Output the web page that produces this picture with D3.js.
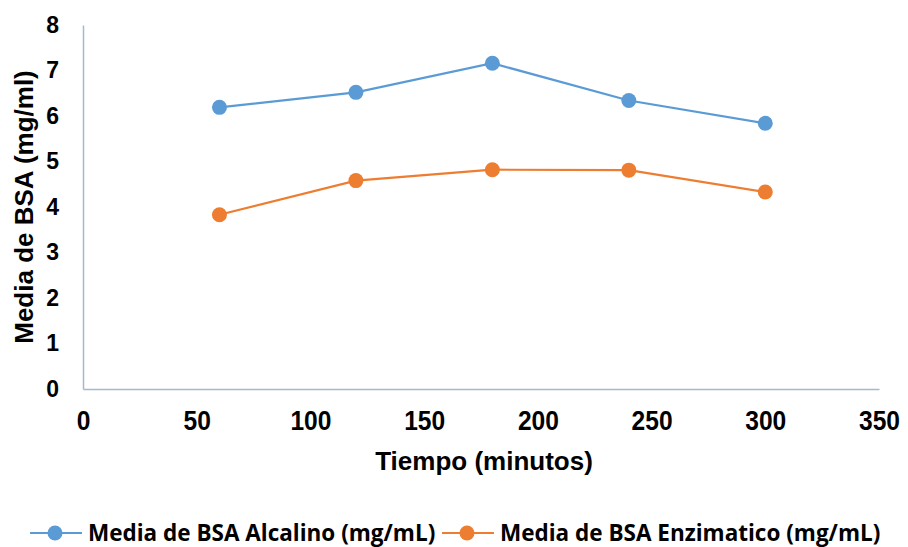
<!DOCTYPE html>
<html>
<head>
<meta charset="utf-8">
<script src="https://cdn.jsdelivr.net/npm/d3@7"></script>
<style>
    body { margin: 0; background: #fff; }
    svg { display: block; }
</style>
</head>
<body>
<svg id="chart" width="908" height="547"></svg>
<script>
/* global d3 : false */

const tiempos = [60, 120, 180, 240, 300];
const alcalino = [6.19, 6.52, 7.16, 6.34, 5.84];
const enzimatico = [3.83, 4.58, 4.82, 4.81, 4.33];
const xTicks = [0, 50, 100, 150, 200, 250, 300, 350];
const yTicks = [0, 1, 2, 3, 4, 5, 6, 7, 8];
const seriesNames = ["Media de BSA Alcalino (mg/mL)", "Media de BSA Enzimatico (mg/mL)"];
const seriesColors = ["#5B9BD5", "#ED7D31"];

const svg = d3.select("#chart");
const margin = { left: 83, right: 29, top: 25, bottom: 158 };
const width = 908 - margin.left - margin.right;
const height = 547 - margin.top - margin.bottom;

const x = d3.scaleLinear().domain([0, 350]).range([margin.left, margin.left + width]);
const y = d3.scaleLinear().domain([0, 8]).range([margin.top + height, margin.top]);

const axisFont = "'Liberation Sans', Arial, sans-serif";
const legendFont = "'Open Sans', Lato, sans-serif";

// axes
const yAxis = svg.append("g")
    .attr("transform", `translate(${margin.left},0)`)
    .call(d3.axisLeft(y).tickValues(yTicks).tickSize(0).tickPadding(24));
const xAxis = svg.append("g")
    .attr("transform", `translate(0,${margin.top + height})`)
    .call(d3.axisBottom(x).tickValues(xTicks).tickSize(0).tickPadding(22));

[yAxis, xAxis].forEach(g => {
    g.select(".domain").attr("stroke", "#A9B6D2").attr("stroke-width", 1.5);
});
yAxis.selectAll("text")
    .attr("font-family", axisFont)
    .attr("font-weight", "bold")
    .attr("font-size", 23)
    .attr("fill", "#000");
xAxis.selectAll("text")
    .attr("font-family", axisFont)
    .attr("font-weight", "bold")
    .attr("font-size", 27)
    .attr("transform", "scale(0.91,1)")
    .attr("fill", "#000");

// axis titles
svg.append("text")
    .attr("transform", `translate(33,207) rotate(-90)`)
    .attr("text-anchor", "middle")
    .attr("font-family", axisFont)
    .attr("font-weight", "bold")
    .attr("font-size", 26)
    .text("Media de BSA (mg/ml)");

svg.append("text")
    .attr("x", 484)
    .attr("y", 470)
    .attr("text-anchor", "middle")
    .attr("font-family", axisFont)
    .attr("font-weight", "bold")
    .attr("font-size", 26)
    .text("Tiempo (minutos)");

// series
const line = d3.line()
    .x(d => x(d[0]))
    .y(d => y(d[1]));

[alcalino, enzimatico].forEach((values, i) => {
    const pts = tiempos.map((t, j) => [t, values[j]]);
    svg.append("path")
        .datum(pts)
        .attr("fill", "none")
        .attr("stroke", seriesColors[i])
        .attr("stroke-width", 2.2)
        .attr("d", line);
    svg.append("g")
        .selectAll("circle")
        .data(pts)
        .join("circle")
        .attr("cx", d => x(d[0]))
        .attr("cy", d => y(d[1]))
        .attr("r", 7.5)
        .attr("fill", seriesColors[i]);
});

// legend
const legendX = [30, 442];
seriesNames.forEach((name, i) => {
    const g = svg.append("g").attr("transform", `translate(${legendX[i]},533)`);
    g.append("line")
        .attr("x1", 0).attr("x2", 52)
        .attr("stroke", seriesColors[i])
        .attr("stroke-width", 2.2);
    g.append("circle")
        .attr("cx", 25)
        .attr("r", 7.5)
        .attr("fill", seriesColors[i]);
    g.append("text")
        .attr("x", 58)
        .attr("y", 8)
        .attr("font-family", legendFont)
        .attr("font-weight", "bold")
        .attr("font-size", 22.5)
        .text(name);
});
</script>
</body>
</html>
